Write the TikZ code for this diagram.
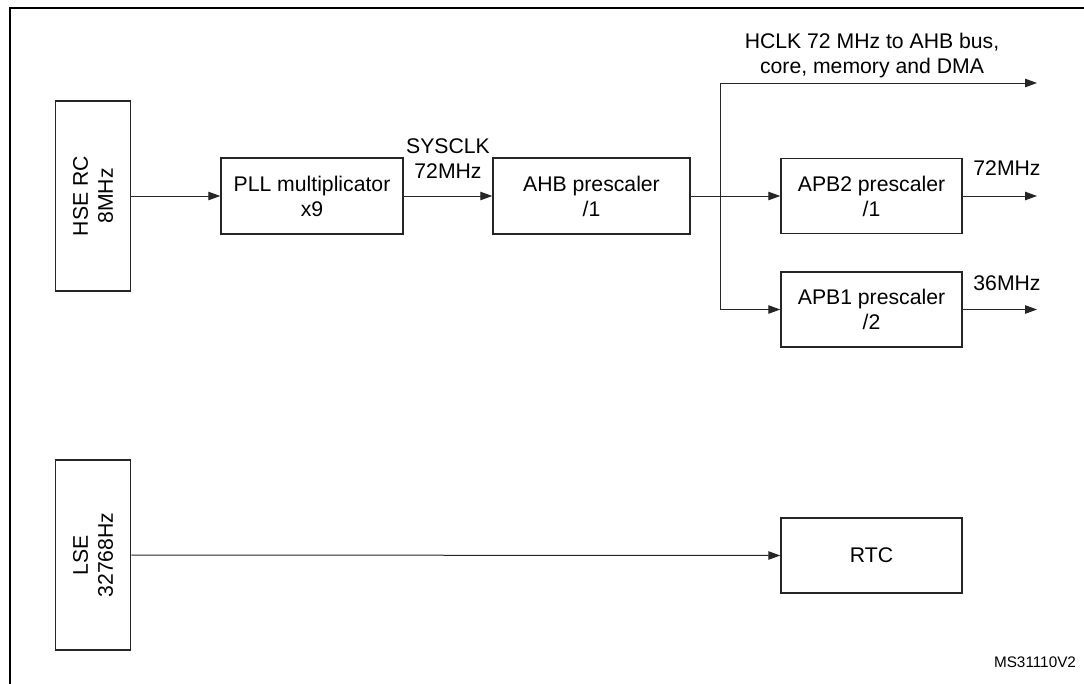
\documentclass[tikz,border=0pt]{standalone}
\usepackage{fontspec}
\setmainfont{Liberation Sans}
\usetikzlibrary{arrows.meta}
\begin{document}
\begin{tikzpicture}[x=1pt,y=-1pt,
  font=\fontsize{21.2}{25}\selectfont,
  blk/.style={draw=black!85,line width=1.5pt,inner sep=0pt,align=center,fill=white},
  lbl/.style={inner sep=0pt,align=center},
  conn/.style={line width=1pt,draw=black!85},
  arr/.style={conn,-{Triangle[length=12pt,width=8.5pt]}}]
\clip (0,0) rectangle (1084,683);
\fill[white] (0,0) rectangle (1084,683);
\draw[line width=2.4pt] (10,700) -- (10,8) -- (1100,8);

\node[blk,minimum width=75pt,minimum height=190pt] (hse) at (93,196) {};
\node[lbl,rotate=90] (hset) at (93,196) {HSE RC\\8MHz};
\node[blk,minimum width=182pt,minimum height=76pt] (pll) at (312,196) {PLL multiplicator\\x9};
\node[blk,minimum width=197pt,minimum height=76pt] (ahb) at (591.5,196) {AHB prescaler\\/1};
\node[blk,minimum width=181pt,minimum height=75pt] (apb2) at (871.5,196) {APB2 prescaler\\/1};
\node[blk,minimum width=181pt,minimum height=75pt] (apb1) at (871.5,309.5) {APB1 prescaler\\/2};
\node[blk,minimum width=75pt,minimum height=190pt] (lse) at (93,555) {};
\node[lbl,rotate=90] (lset) at (93,555) {LSE\\32768Hz};
\node[blk,minimum width=181pt,minimum height=75pt] (rtc) at (871.5,555.5) {RTC};

\coordinate (br) at (720,196);
\coordinate (top) at (720,83);
\coordinate (hend) at (1037,83);
\coordinate (o2) at (1037,196);
\coordinate (o1) at (1037,309.5);

\draw[arr] (hse.east) -- (pll.west);
\draw[arr] (pll.east) -- (ahb.west);
\draw[arr] (ahb.east) -- (apb2.west);
\draw[arr] (br) -- (top) -- (hend);
\draw[arr] (br) |- (apb1.west);
\draw[arr] (apb2.east) -- (o2);
\draw[arr] (apb1.east) -- (o1);
\draw[arr] (lse.east) -- (rtc.west);

\node[lbl] (sys) at (448,158.5) {SYSCLK\\72MHz};
\node[lbl] (hclk) at (872,56) {HCLK 72 MHz to AHB bus,\\core, memory and DMA};
\node[lbl] (f72) at (1007,168) {72MHz};
\node[lbl] (f36) at (1007,283) {36MHz};
\node[lbl,font=\fontsize{15.3}{18}\selectfont] (ms) at (1035,662) {MS31110V2};
\end{tikzpicture}
\end{document}
